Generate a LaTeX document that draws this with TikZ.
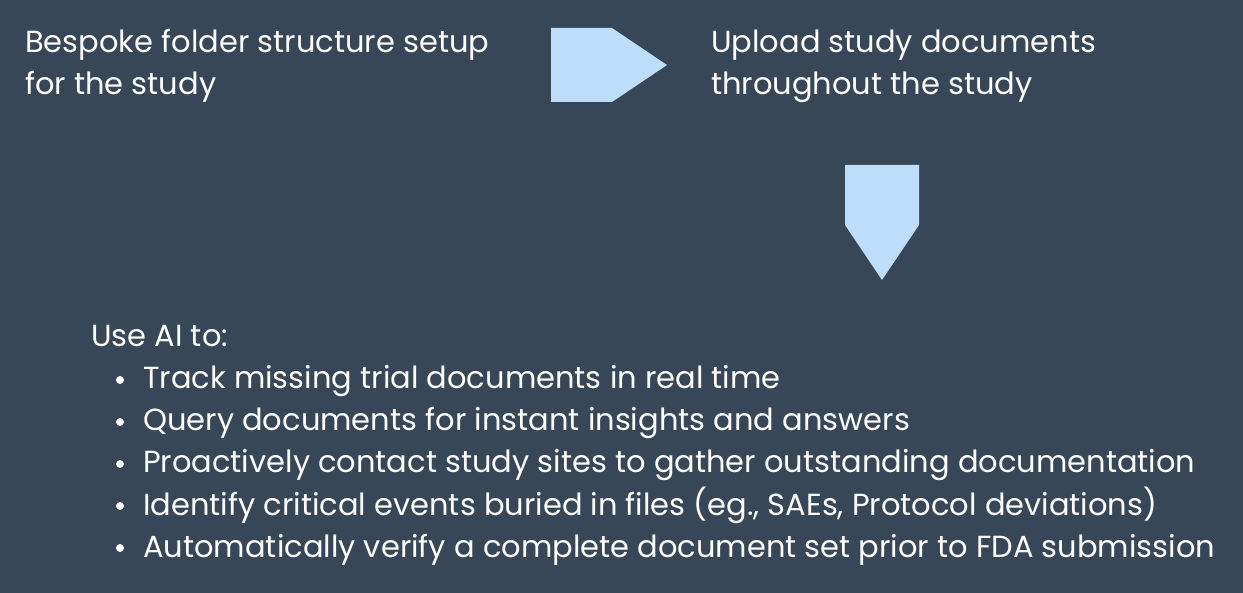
\documentclass[tikz,border=0pt]{standalone}
\usepackage{fontspec}
\setmainfont{Poppins}
\usetikzlibrary{positioning}
\definecolor{bgslate}{HTML}{374757}
\definecolor{arrowblue}{HTML}{BDDDFB}
\begin{document}
\begin{tikzpicture}[x=1pt,y=-1pt]
    \tikzset{txt/.style = {anchor=base west,inner sep=0pt,text=white,align=left,
      font=\fontsize{30.5}{42}\selectfont}}
    \tikzset{flow/.style = {fill=arrowblue,draw=none}}
    \fill[bgslate] (0,0) rectangle (1243,593);
    \useasboundingbox (0,0) rectangle (1243,593);
    % step texts
    \node[txt] (setup) at (25,95) {Bespoke folder structure setup\\for the study};
    \node[txt] (upload) at (711,95) {Upload study documents\\throughout the study};
    % block arrows
    \fill[flow] (551,28) -- (612,28) -- (667,65) -- (612,102) -- (551,102) -- cycle;
    \fill[flow] (845,165) -- (919,165) -- (919,225) -- (882,280) -- (845,225) -- cycle;
    % AI list
    \node[txt] (ai) at (91,347) {Use AI to:};
    \foreach \i/\item in {1/Track missing trial documents in real time,
      2/Query documents for instant insights and answers,
      3/Proactively contact study sites to gather outstanding documentation,
      4/{Identify critical events buried in files (eg., SAEs, Protocol deviations)},
      5/Automatically verify a complete document set prior to FDA submission} {
      \node[txt] (item\i) at (143,347+42*\i) {\item};
      \fill[white] (120,338+42*\i) circle (4);
    }
\end{tikzpicture}
\end{document}
